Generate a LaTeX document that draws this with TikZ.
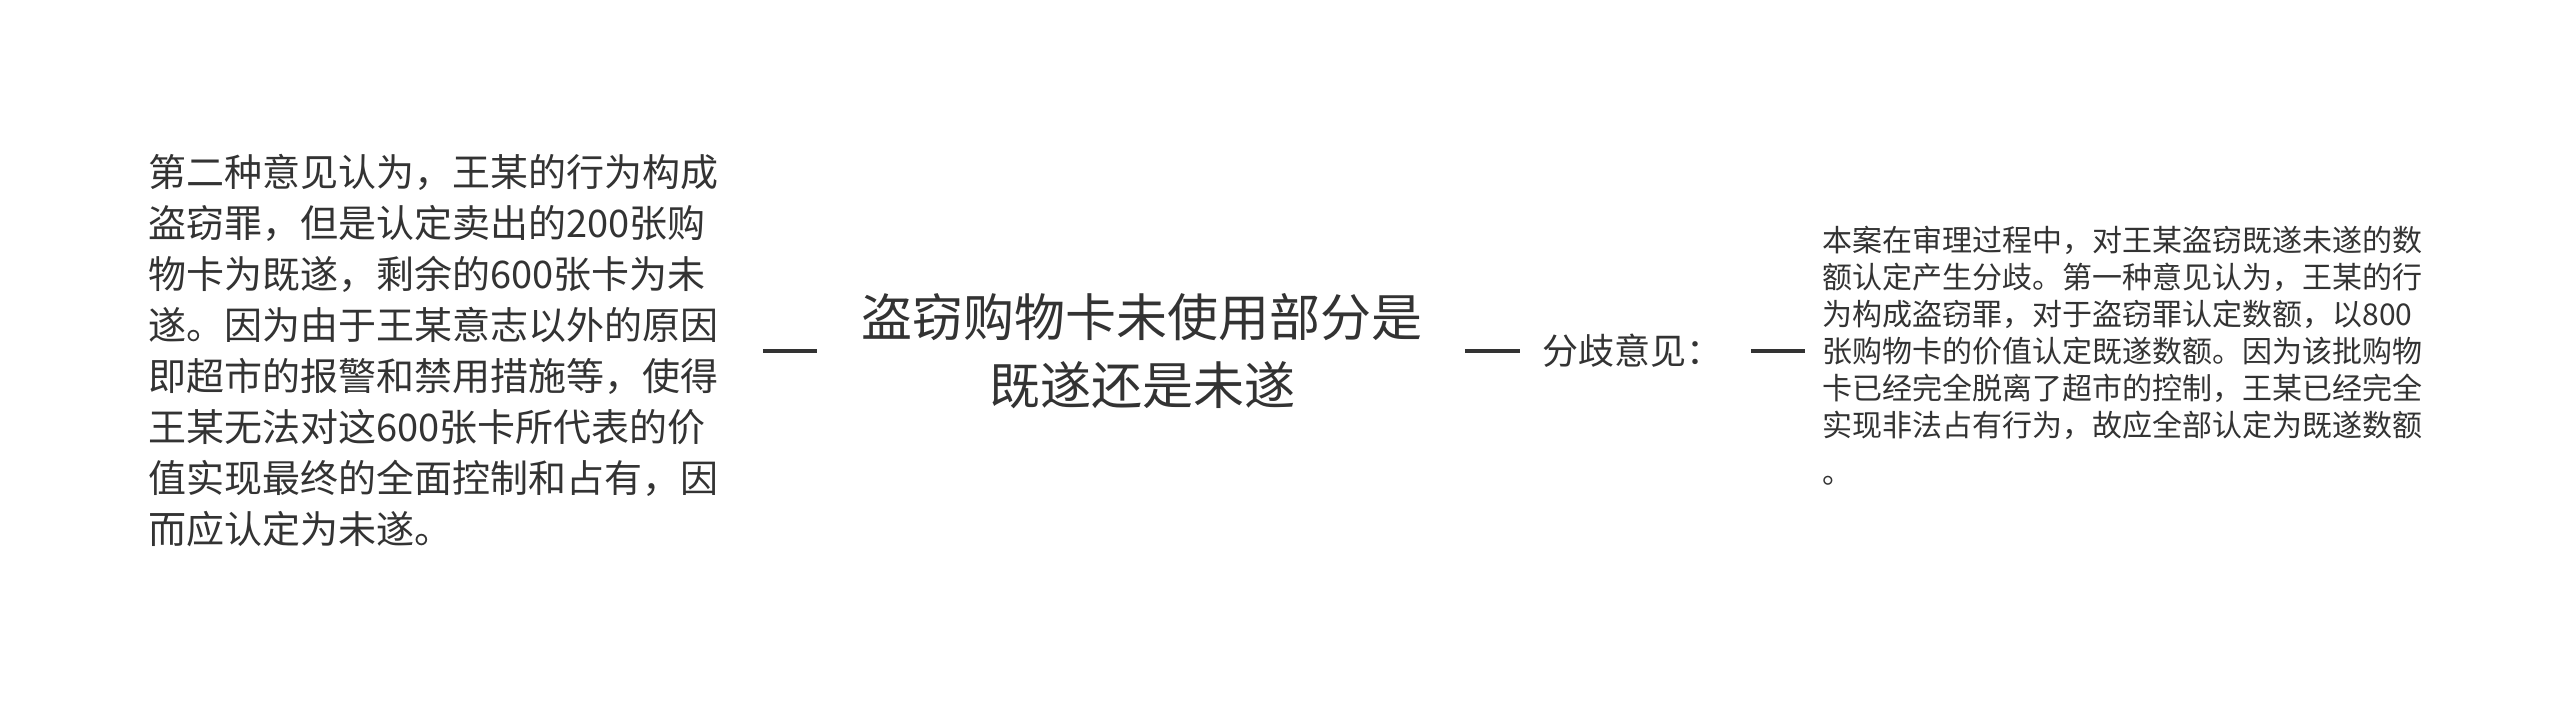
\documentclass[tikz,border=0pt]{standalone}
\usepackage{fontspec}
\setmainfont{Noto Sans CJK SC}
\definecolor{inkgray}{HTML}{333333}
\tikzset{
  opinion/.style={inner sep=0pt, align=left, text=inkgray, anchor=west,
    font=\fontsize{19pt}{25.5pt}\selectfont},
  topic/.style={inner sep=0pt, align=center, text=inkgray,
    font=\fontsize{25.5pt}{34pt}\selectfont},
  branch/.style={inner sep=0pt, text=inkgray, anchor=west,
    font=\fontsize{18pt}{22pt}\selectfont},
  detail/.style={inner sep=0pt, align=left, text=inkgray, anchor=west,
    font=\fontsize{15pt}{18.5pt}\selectfont},
  link/.style={draw=inkgray, line width=2pt}
}
\begin{document}
\begin{tikzpicture}[x=0.5pt,y=0.5pt]
        % fix the canvas
        \useasboundingbox (0,0) rectangle (2560,703);

        % draw the central question
        \node[topic] (topic) at (1142,352) {盗窃购物卡未使用部分是\\既遂还是未遂};

        % draw the second opinion on the left
        \node[opinion] (second) at (148,352) {第二种意见认为，王某的行为构成\\
            盗窃罪，但是认定卖出的200张购\\
            物卡为既遂，剩余的600张卡为未\\
            遂。因为由于王某意志以外的原因\\
            即超市的报警和禁用措施等，使得\\
            王某无法对这600张卡所代表的价\\
            值实现最终的全面控制和占有，因\\
            而应认定为未遂。};

        % draw the branch and the first opinion on the right
        \node[branch] (split) at (1542,352) {分歧意见：};
        \node[detail] (first) at (1822,347) {本案在审理过程中，对王某盗窃既遂未遂的数\\
            额认定产生分歧。第一种意见认为，王某的行\\
            为构成盗窃罪，对于盗窃罪认定数额，以800\\
            张购物卡的价值认定既遂数额。因为该批购物\\
            卡已经完全脱离了超市的控制，王某已经完全\\
            实现非法占有行为，故应全部认定为既遂数额\\[5pt]
            。};

        % draw the links between them
        \foreach \from/\to/\gapa/\gapb in {
            second/topic/22/22,
            topic/split/21/11,
            split/first/14/8.5}
                \draw[link, shorten <=\gapa pt, shorten >=\gapb pt] (\from.east) -- (\to.west |- \from.east);
\end{tikzpicture}
\end{document}
